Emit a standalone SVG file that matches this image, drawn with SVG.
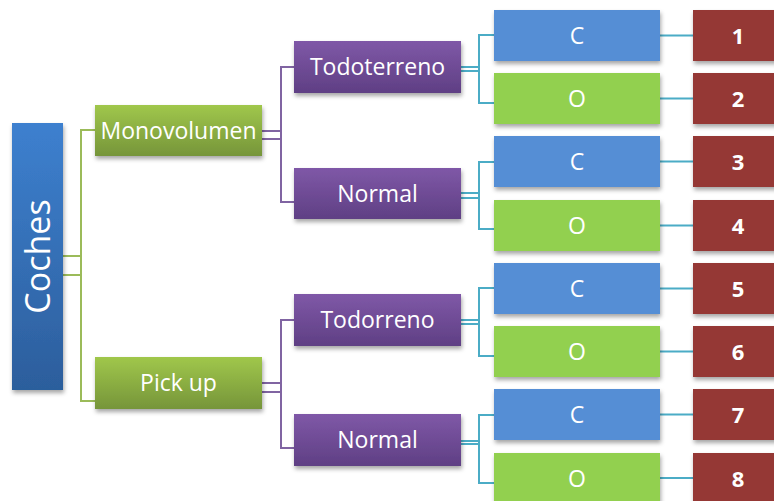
<svg xmlns="http://www.w3.org/2000/svg" width="774" height="501" viewBox="0 0 774 501">
  <defs>
    <linearGradient id="gBlue" x1="0" y1="0" x2="0" y2="1">
      <stop offset="0" stop-color="#3d80cf"/>
      <stop offset="1" stop-color="#2c5e9c"/>
    </linearGradient>
    <linearGradient id="gGreen" x1="0" y1="0" x2="0" y2="1">
      <stop offset="0" stop-color="#a0c74b"/>
      <stop offset="1" stop-color="#76953a"/>
    </linearGradient>
    <linearGradient id="gPurple" x1="0" y1="0" x2="0" y2="1">
      <stop offset="0" stop-color="#7f58a7"/>
      <stop offset="1" stop-color="#5f3f84"/>
    </linearGradient>
    <filter id="shadow" x="-10%" y="-10%" width="130%" height="150%">
      <feDropShadow dx="1" dy="3" stdDeviation="2" flood-color="#000" flood-opacity="0.35"/>
    </filter>
  </defs>
  <style>
    text { font-family: "Open Sans", "Noto Sans", "DejaVu Sans", sans-serif; fill: #ffffff; text-anchor: middle; }
    .lbl { font-size: 23px; }
    .num { font-size: 22px; font-weight: bold; }
    .title { font-size: 34px; }
    .box { filter: url(#shadow); }
    .lv1 { fill: none; stroke: #9bbb59; stroke-width: 2; }
    .lv2 { fill: none; stroke: #8064a2; stroke-width: 2; }
    .lv3 { fill: none; stroke: #4bacc6; stroke-width: 2; }
  </style>

  <!-- connectors -->
  <g id="connectors">
    <!-- Coches to second level -->
    <path class="lv1" d="M63 256H81M63 275H81M95 130H81V401H95"/>
    <!-- Monovolumen to its children -->
    <path class="lv2" d="M262 131H281M262 139H281M294 67H281V202H294"/>
    <!-- Pick up to its children -->
    <path class="lv2" d="M262 383H281M262 392H281M294 320H281V448H294"/>
    <!-- third level to C / O -->
    <path class="lv3" d="M461 67H479M461 71H479M494 35H479V103H494"/>
    <path class="lv3" d="M461 193H479M461 198H479M494 162H479V229H494"/>
    <path class="lv3" d="M461 320H479M461 324H479M494 288H479V356H494"/>
    <path class="lv3" d="M461 441H479M461 444H479M494 415H479V483H494"/>
    <!-- C / O to numbered boxes -->
    <path class="lv3" d="M660 35.5H693M660 98.5H693M660 161.5H693M660 225.5H693M660 288.5H693M660 351.5H693M660 414.5H693M660 478H693"/>
  </g>

  <!-- root -->
  <g id="coches">
    <rect class="box" x="12" y="123" width="51" height="267" fill="url(#gBlue)"/>
    <text class="title" transform="translate(49.5 256.5) rotate(-90)">Coches</text>
  </g>

  <!-- second level -->
  <g id="monovolumen">
    <rect class="box" x="95" y="105" width="167" height="51" fill="url(#gGreen)"/>
    <text class="lbl" x="178.5" y="138.5">Monovolumen</text>
  </g>
  <g id="pickup">
    <rect class="box" x="95" y="357" width="167" height="52" fill="url(#gGreen)"/>
    <text class="lbl" x="178.5" y="391">Pick up</text>
  </g>

  <!-- third level -->
  <g id="todoterreno">
    <rect class="box" x="294" y="41" width="167" height="52" fill="url(#gPurple)"/>
    <text class="lbl" x="377.5" y="75">Todoterreno</text>
  </g>
  <g id="normal1">
    <rect class="box" x="294" y="168" width="167" height="51" fill="url(#gPurple)"/>
    <text class="lbl" x="377.5" y="201.5">Normal</text>
  </g>
  <g id="todorreno">
    <rect class="box" x="294" y="294" width="167" height="52" fill="url(#gPurple)"/>
    <text class="lbl" x="377.5" y="328">Todorreno</text>
  </g>
  <g id="normal2">
    <rect class="box" x="294" y="414" width="167" height="52" fill="url(#gPurple)"/>
    <text class="lbl" x="377.5" y="448">Normal</text>
  </g>

  <!-- fourth level -->
  <g id="c1"><rect class="box" x="494" y="10" width="166" height="51" fill="#558ed5"/><text class="lbl" x="577" y="43.5">C</text></g>
  <g id="o1"><rect class="box" x="494" y="73" width="166" height="51" fill="#92d050"/><text class="lbl" x="577" y="106.5">O</text></g>
  <g id="c2"><rect class="box" x="494" y="136" width="166" height="51" fill="#558ed5"/><text class="lbl" x="577" y="169.5">C</text></g>
  <g id="o2"><rect class="box" x="494" y="200" width="166" height="51" fill="#92d050"/><text class="lbl" x="577" y="233.5">O</text></g>
  <g id="c3"><rect class="box" x="494" y="263" width="166" height="51" fill="#558ed5"/><text class="lbl" x="577" y="296.5">C</text></g>
  <g id="o3"><rect class="box" x="494" y="326" width="166" height="51" fill="#92d050"/><text class="lbl" x="577" y="359.5">O</text></g>
  <g id="c4"><rect class="box" x="494" y="389" width="166" height="51" fill="#558ed5"/><text class="lbl" x="577" y="422.5">C</text></g>
  <g id="o4"><rect class="box" x="494" y="453" width="166" height="51" fill="#92d050"/><text class="lbl" x="577" y="486.5">O</text></g>

  <!-- numbered leaves -->
  <g id="n1"><rect class="box" x="693" y="10" width="90" height="51" fill="#953735"/><text class="num" x="738" y="43.5">1</text></g>
  <g id="n2"><rect class="box" x="693" y="73" width="90" height="51" fill="#953735"/><text class="num" x="738" y="106.5">2</text></g>
  <g id="n3"><rect class="box" x="693" y="136" width="90" height="51" fill="#953735"/><text class="num" x="738" y="169.5">3</text></g>
  <g id="n4"><rect class="box" x="693" y="200" width="90" height="51" fill="#953735"/><text class="num" x="738" y="233.5">4</text></g>
  <g id="n5"><rect class="box" x="693" y="263" width="90" height="51" fill="#953735"/><text class="num" x="738" y="296.5">5</text></g>
  <g id="n6"><rect class="box" x="693" y="326" width="90" height="51" fill="#953735"/><text class="num" x="738" y="359.5">6</text></g>
  <g id="n7"><rect class="box" x="693" y="389" width="90" height="51" fill="#953735"/><text class="num" x="738" y="422.5">7</text></g>
  <g id="n8"><rect class="box" x="693" y="453" width="90" height="51" fill="#953735"/><text class="num" x="738" y="486.5">8</text></g>
</svg>
